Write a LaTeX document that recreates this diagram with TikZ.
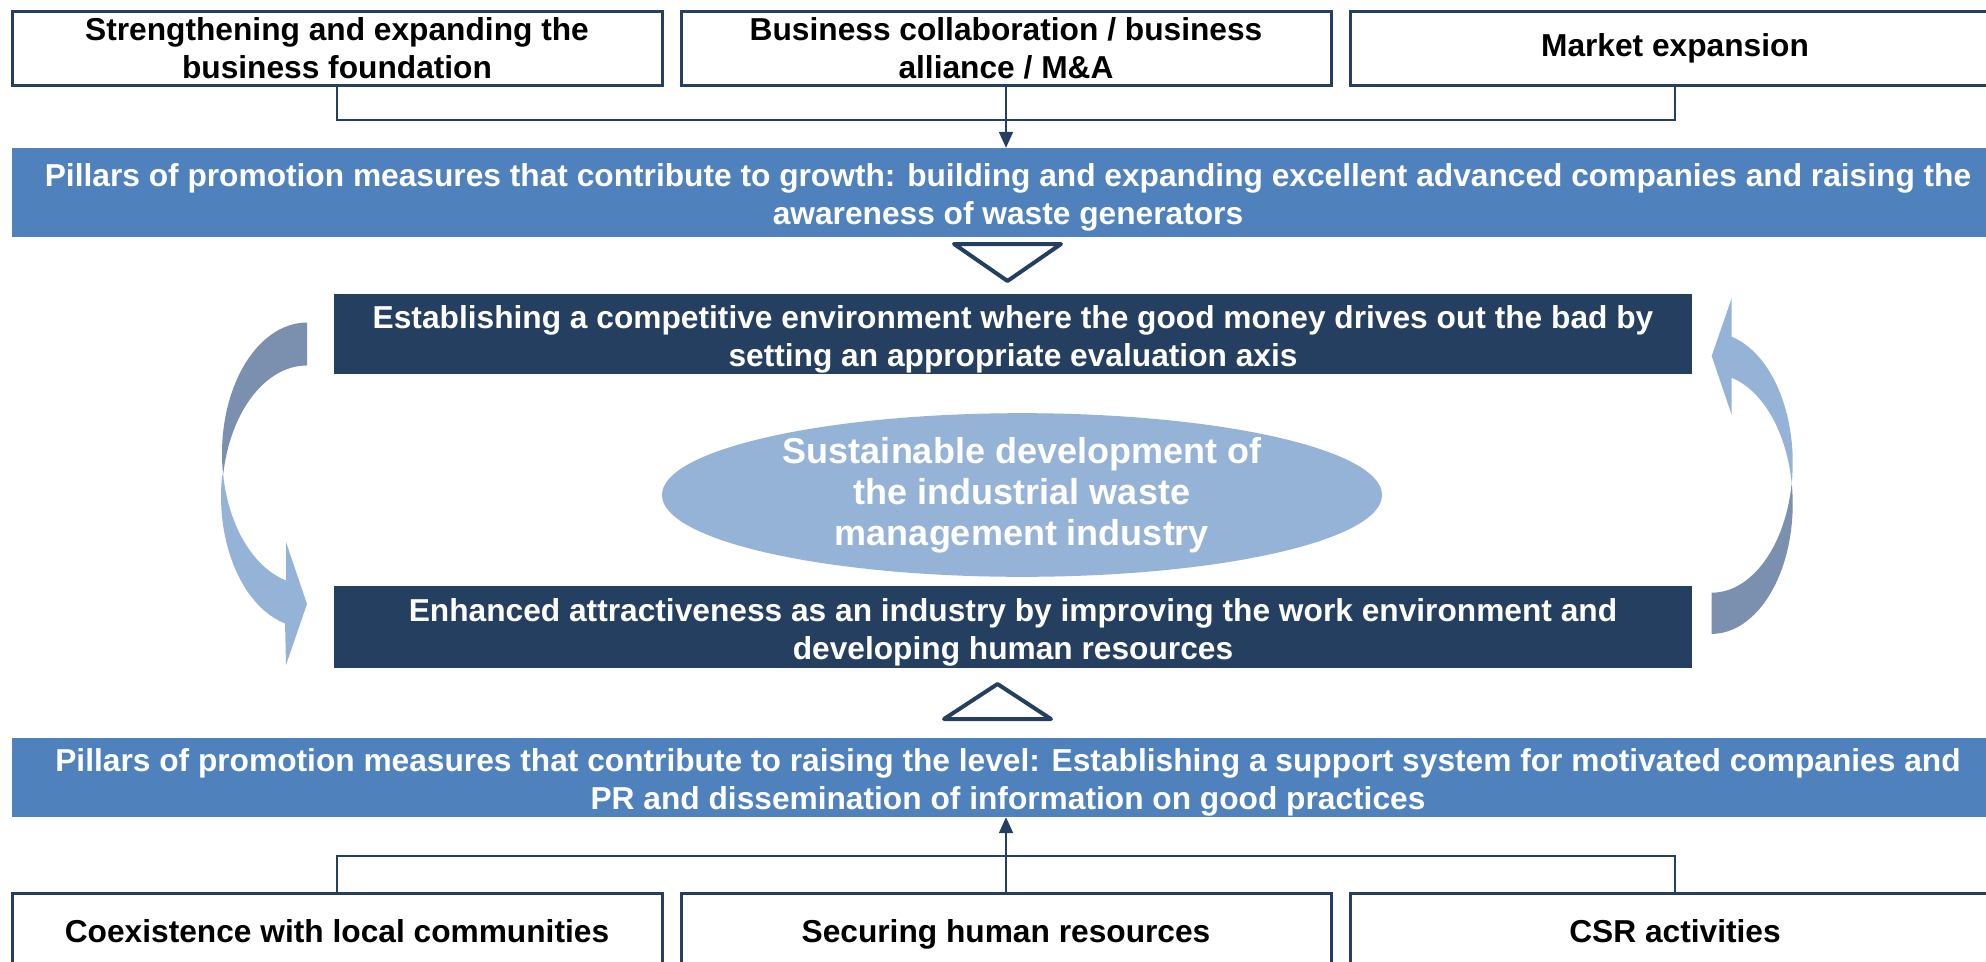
\documentclass[tikz,border=0pt]{standalone}
\usepackage{fontspec}
\setmainfont{Liberation Sans}
\usetikzlibrary{positioning, arrows.meta, shapes.geometric}

\definecolor{navy}{HTML}{243F60}
\definecolor{pillarblue}{HTML}{4F81BD}
\definecolor{paleblue}{HTML}{95B3D7}
\definecolor{greyblue}{HTML}{7A90AE}
\newcommand{\topstrut}{\rule{0pt}{33pt}}

\begin{document}
\begin{tikzpicture}[x=1pt, y=-1pt, node distance=669pt, on grid, >={Triangle[length=16pt, width=14pt]},
    txt/.style={font=\fontsize{31.7}{38}\selectfont\bfseries, align=center, inner sep=0pt},
    topbox/.style={txt, draw=navy, line width=3pt, fill=white, minimum width=650pt, minimum height=74pt},
    onerow/.style={text height=31pt, text depth=7pt},
    pillar/.style={txt, fill=pillarblue, text=white, minimum width=1992pt},
    darkbox/.style={txt, fill=navy, text=white, minimum width=1358pt},
    link/.style={draw=navy, line width=2pt},
    hollow/.style={draw=navy, line width=4pt, fill=white, line join=round}]
    \clip (0,0) rectangle (1986,961);
    \fill[white] (0,0) rectangle (1986,961);

    % Top row
    \node[topbox] (strength) at (337,48) {Strengthening and expanding the\\business foundation};
    \node[topbox] (alliance) [right=of strength] {Business collaboration / business\\alliance / M\&A};
    \node[topbox, onerow, text height=23pt] (market) [right=of alliance] {Market expansion};

    % Pillars
    \node[pillar, minimum height=89pt] (growth) at (1008,192.5) {\topstrut Pillars of promotion measures that contribute to growth: building and expanding excellent advanced companies and raising the\\awareness of waste generators};
    \node[pillar, minimum height=79pt] (level) at (1008,777.5) {\topstrut Pillars of promotion measures that contribute to raising the level: Establishing a support system for motivated companies and\\PR and dissemination of information on good practices};

    % Middle
    \node[darkbox, minimum height=80pt] (compete) at (1013,334) {\topstrut Establishing a competitive environment where the good money drives out the bad by\\setting an appropriate evaluation axis};
    \node[darkbox, minimum height=82pt] (attract) at (1013,627) {\topstrut Enhanced attractiveness as an industry by improving the work environment and\\developing human resources};
    \node[ellipse, fill=paleblue, text=white, minimum width=720pt, minimum height=142pt, inner sep=0pt,
          align=center, font=\fontsize{36}{41}\selectfont\bfseries] (sustain) at (1022,495)
          {Sustainable development of\\the industrial waste\\management industry};

    % Bottom row
    \node[topbox, onerow] (community) at (337,930) {Coexistence with local communities};
    \node[topbox, onerow] (hr) [right=of community] {Securing human resources};
    \node[topbox, onerow] (csr) [right=of hr] {CSR activities};

    % Connectors
    \coordinate (topjoin) at (0,120);
    \coordinate (botjoin) at (0,856);
    \draw[link] (strength.south) -- (strength.south |- topjoin) -- (market.south |- topjoin) -- (market.south);
    \draw[link, ->] (alliance.south) -- (alliance.south |- growth.north);
    \draw[link] (community.north) -- (community.north |- botjoin) -- (csr.north |- botjoin) -- (csr.north);
    \draw[link, ->] (hr.north) -- (hr.north |- level.south);

    % Hollow triangles
    \draw[hollow] (954,244) -- (1061,244) -- (1007.5,281) -- cycle;
    \draw[hollow] (944,719) -- (1051,719) -- (997.5,684) -- cycle;

    % Left curved arrow
    \fill[greyblue] (307,322.5) arc[start angle=270, end angle=170.56, x radius=85, y radius=131]
        arc[start angle=189.44, end angle=270, x radius=85, y radius=131] -- cycle;
    \fill[paleblue] (222.2,475) arc[start angle=189.44, end angle=104.3, x radius=85, y radius=131]
        -- (286,665) -- (307,604) -- (286,542) -- (286,580.4)
        arc[start angle=104.3, end angle=170.56, x radius=85, y radius=131] -- cycle;

    % Right curved arrow
    \fill[paleblue] (1791.7,483.3) arc[start angle=9.1, end angle=-75.7, x radius=81, y radius=130]
        -- (1731.7,298) -- (1711.7,356) -- (1731.7,415) -- (1731.7,377.8)
        arc[start angle=-75.7, end angle=-9.1, x radius=81, y radius=130] -- cycle;
    \fill[greyblue] (1791.7,483.3) arc[start angle=-9.1, end angle=90, x radius=81, y radius=130]
        -- (1711.7,592.7)
        arc[start angle=90, end angle=9.1, x radius=81, y radius=130] -- cycle;
\end{tikzpicture}
\end{document}
